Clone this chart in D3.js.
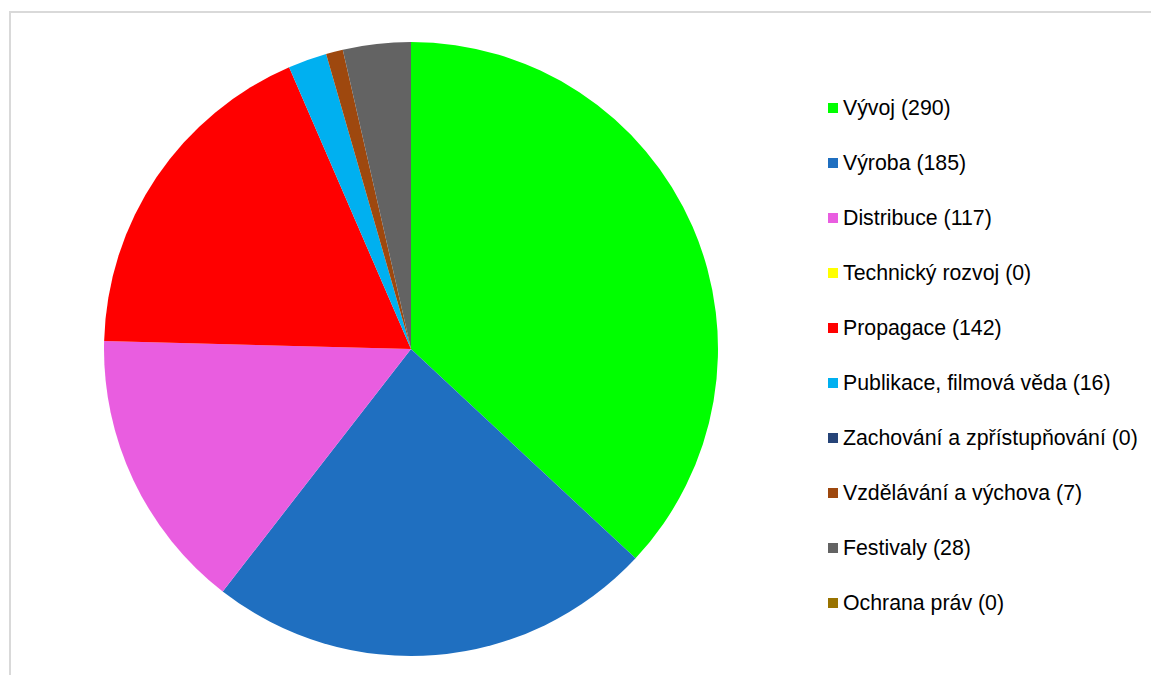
<!DOCTYPE html>
<html>
<head>
<meta charset="utf-8">
<script src="https://cdn.jsdelivr.net/npm/d3@7"></script>
<style>
  body { margin: 0; background: #fff; }
  svg { display: block; }
</style>
</head>
<body>
<svg id="chart" width="1151" height="675"></svg>
<script>
var categories = ["Vývoj", "Výroba", "Distribuce", "Technický rozvoj", "Propagace",
    "Publikace, filmová věda", "Zachování a zpřístupňování", "Vzdělávání a výchova",
    "Festivaly", "Ochrana práv"];
var values = [290, 185, 117, 0, 142, 16, 0, 7, 28, 0];
var colors = ["#00ff00", "#1f6fc0", "#e95de0", "#ffff00", "#ff0000",
    "#00b0f0", "#264478", "#9e480e", "#636363", "#997300"];

var svg = d3.select("#chart");

// frame
svg.append("rect")
    .attr("x", 10)
    .attr("y", 12)
    .attr("width", 1160)
    .attr("height", 700)
    .attr("fill", "none")
    .attr("stroke", "#d9d9d9")
    .attr("stroke-width", 2);

var cx = 411, cy = 349, radius = 307;

var pie = d3.pie().sort(null).value(function (d) { return d; });
var arc = d3.arc().innerRadius(0).outerRadius(radius);

var g = svg.append("g")
    .attr("transform", "translate(" + cx + "," + cy + ")");

g.selectAll("path")
    .data(pie(values))
    .enter().append("path")
    .attr("d", arc)
    .attr("fill", function (d, i) { return colors[i]; });

// legend
var legend = svg.append("g")
    .attr("transform", "translate(828,108)");

var item = legend.selectAll("g")
    .data(categories)
    .enter().append("g")
    .attr("transform", function (d, i) { return "translate(0," + (i * 55) + ")"; });

item.append("rect")
    .attr("x", 0)
    .attr("y", -5)
    .attr("width", 10)
    .attr("height", 10)
    .attr("fill", function (d, i) { return colors[i]; });

item.append("text")
    .attr("x", 15)
    .attr("y", 0)
    .attr("dy", "0.35em")
    .style("font-family", "Liberation Sans, Arial, sans-serif")
    .style("font-size", "21.3px")
    .attr("fill", "#000")
    .text(function (d, i) { return d + " (" + values[i] + ")"; });
</script>
</body>
</html>
